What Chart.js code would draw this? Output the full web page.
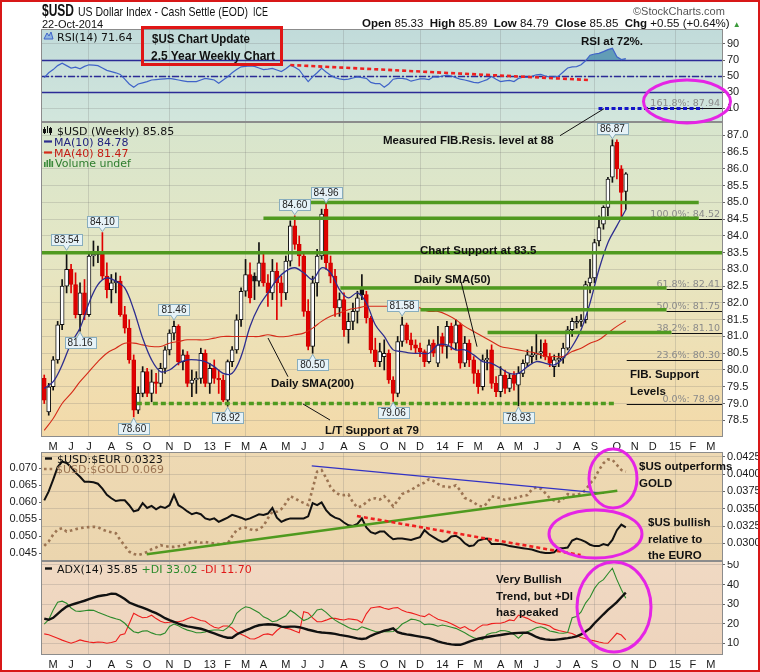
<!DOCTYPE html>
<html>
<head>
<meta charset="utf-8">
<script src="https://cdn.jsdelivr.net/npm/chart.js@4.4.1/dist/chart.umd.min.js"></script>
<style>
html, body { margin: 0; padding: 0; background: #fff; }
#wrap { position: relative; width: 760px; height: 672px; overflow: hidden; background: #fff; }
#frame { position: absolute; left: 0; top: 0; width: 760px; height: 672px; box-sizing: border-box; border: 2px solid #d81818; pointer-events: none; z-index: 6; }
canvas { position: absolute; left: 0; }
.t { position: absolute; white-space: nowrap; line-height: 1; z-index: 4; transform-origin: 0 0; }
#box { position: absolute; left: 141px; top: 26px; width: 142px; height: 40px; box-sizing: border-box; border: 3px solid #e01616; z-index: 4; }
</style>
</head>
<body>
<div id="wrap">
  <canvas id="rsi" width="760" height="93" style="top:29px"></canvas>
  <canvas id="price" width="760" height="330" style="top:122px"></canvas>
  <canvas id="ratio" width="760" height="109" style="top:452px"></canvas>
  <canvas id="adx" width="760" height="111" style="top:561px"></canvas>
  <canvas id="over" width="760" height="672" style="top:0;z-index:3"></canvas>
  <div id="box"></div>
  <div id="frame"></div>
</div>
<script>
// ---- weekly data, week 0 = week of 23-Apr-2012, last = week of 20-Oct-2014 ----
const open = [79.75,78.75,79.5,80.3,81.35,82.5,83.0,82.55,81.65,82.3, 81.65,83.4,83.45,83.45,82.8,82.4,82.6,82.65,81.65,81.25,
  80.3,78.8,79.3,79.95,79.3,79.65,79.6,80.05,80.6,81.1, 81.3,80.25,80.45,79.6,79.7,79.75,80.5,79.6,80.05,79.75,
  79.7,79.1,80.25,80.6,81.5,82.35,82.85,82.8,82.65,83.2, 82.6,82.3,82.95,82.6,82.3,83.25,84.3,83.75,83.4,81.75,
  80.7,82.6,83.4,84.8,83.2,82.8,81.85,82.1,81.2,81.45, 81.75,82.45,82.25,81.55,80.6,80.25,80.4,80.5,79.7,79.3,
  80.85,81.35,80.9,80.75,80.65,80.55,80.25,80.8,80.2,81.0, 80.7,81.3,80.8,81.35,80.2,80.8,80.3,79.9,79.5,80.3,
  80.6,79.6,79.35,79.85,79.45,79.85,79.55,79.9,80.2,80.4, 80.45,80.5,80.8,80.4,80.1,80.3,80.35,80.65,81.2,81.4,
  81.45,81.5,82.6,82.75,83.85,84.35,84.85,85.75,86.8,86.0, 85.33];
const high = [79.85,79.6,80.4,81.45,82.7,83.54,83.15,82.9,82.6,82.7, 83.5,83.85,83.7,84.10,83.2,82.85,82.9,82.8,81.9,81.5,
  80.45,79.5,80.1,80.05,80.0,79.9,80.2,80.7,81.2,81.46, 81.35,80.6,80.55,80.0,79.95,80.65,80.6,80.2,80.3,80.0,
  79.85,80.3,80.7,81.65,82.45,83.3,83.2,82.9,83.8,83.5, 82.85,83.3,83.2,82.8,83.4,84.45,84.60,84.0,83.5,82.1,
  82.8,83.6,84.8,84.96,83.4,83.0,82.3,82.3,81.7,82.0, 82.35,82.85,82.35,81.6,80.95,80.8,80.9,80.6,79.8,81.0,
  81.58,81.4,81.1,80.9,80.8,80.6,80.9,80.9,81.3,81.1, 81.45,81.4,81.5,81.4,81.0,80.9,80.4,80.0,80.45,80.6,
  80.75,79.8,80.1,80.0,79.9,79.95,80.1,80.3,80.6,80.7, 81.1,80.9,80.9,80.5,80.45,80.5,80.8,81.3,81.55,81.6,
  81.65,82.65,83.3,83.9,84.6,84.9,85.75,86.87,86.87,86.1, 85.89];
const low = [79.0,78.65,79.4,80.2,81.2,82.3,82.3,81.55,81.16,81.5, 81.6,83.1,83.2,82.7,82.15,82.0,82.3,81.6,81.1,80.2,
  78.60,78.7,79.2,79.2,79.05,79.3,79.5,79.9,80.45,80.9, 80.15,80.0,79.5,79.2,79.3,79.6,79.5,79.3,79.6,79.3,
  79.05,78.92,80.1,80.5,81.3,82.2,82.0,82.1,82.5,82.5, 81.9,82.1,81.5,81.9,82.1,83.1,83.6,83.1,81.6,80.6,
  80.50,82.2,83.3,83.0,82.6,81.6,81.6,81.0,80.8,81.2, 81.4,82.1,81.4,80.5,80.1,80.1,80.0,79.6,79.06,79.2,
  80.7,80.8,80.6,80.5,80.4,80.1,80.2,80.4,80.1,80.5, 80.35,80.6,80.6,80.05,80.1,80.1,79.6,79.3,79.4,80.0,
  79.45,79.2,79.2,79.3,79.35,79.4,78.93,79.8,80.1,80.2, 80.3,80.35,80.3,80.1,79.8,80.1,80.2,80.6,81.0,81.25,
  81.3,81.4,82.3,82.6,83.7,84.2,84.6,85.6,85.7,84.5, 84.79];
const close = [79.1,79.5,80.3,81.35,82.5,83.0,82.55,81.65,82.3,81.65, 83.4,83.45,83.5,82.8,82.4,82.6,82.65,81.65,81.25,80.3,
  78.8,79.3,79.95,79.3,79.65,79.6,80.05,80.6,81.1,81.3, 80.25,80.45,79.6,79.7,79.75,80.5,79.6,80.05,79.75,79.7,
  79.1,80.25,80.6,81.5,82.35,82.85,82.15,82.65,83.2,82.6, 82.3,82.95,82.6,82.3,83.25,84.3,83.75,83.4,81.75,80.7,
  82.6,83.4,84.65,83.2,82.8,81.85,82.1,81.2,81.45,81.75, 82.15,82.25,81.55,80.6,80.25,80.55,80.5,79.7,79.3,80.85,
  81.35,80.9,80.75,80.65,80.55,80.25,80.75,80.5,80.75,80.7, 81.3,80.8,81.35,80.2,80.8,80.3,79.9,79.5,80.3,80.35,
  79.6,79.35,79.85,79.45,79.75,79.6,79.9,80.2,80.45,80.45, 80.5,80.55,80.4,80.2,80.3,80.35,80.65,81.2,81.45,81.45,
  81.5,82.55,82.75,83.8,84.25,84.85,85.7,86.7,86.0,85.3, 85.85];

// moving averages read every second week (weeks 0, 2, 4 ... 130)
const ma10 = [79.45,79.65,80.15,80.8,81.25,82.0,82.55,82.75,82.65,82.45, 81.8,80.95,80.3,79.95,80.0,80.2,80.3,80.3,80.25,80.1,
  79.9,79.9,80.4,81.3,81.9,82.3,82.7,82.95,83.05,82.9, 82.7,83.05,82.9,82.4,82.15,82.3,82.0,81.35,81.0,80.6,
  80.55,80.5,80.5,80.5,80.75,80.75,80.6,80.6,80.45,80.25, 80.2,80.05,79.9,79.9,80.1,80.25,80.2,80.15,80.35,80.7,
  81.2,82.0,83.0,83.8,84.3,84.78];
const ma40 = [78.2,78.55,79.0,79.3,79.65,79.95,80.25,80.5,80.65,80.8, 80.8,80.75,80.7,80.7,80.8,80.85,80.9,80.9,80.9,80.95,
  81.0,81.0,81.0,81.0,81.0,81.05,81.0,81.0,81.05,81.1, 81.25,81.45,81.6,81.7,81.8,81.85,81.9,81.9,81.9,81.9,
  81.9,81.95,81.85,81.75,81.75,81.65,81.5,81.3,81.15,81.0, 80.85,80.7,80.65,80.6,80.55,80.5,80.4,80.4,80.4,80.55,
  80.65,80.8,80.9,81.1,81.3,81.47];

const rsi14 = [48,54,58,63,66,63,60,61,59,62, 64,63.5,63,60,57,55.5,54,52,46,40, 36,40,41.5,43,45,45.5,46,46.5,47,46,
  45,44,43,43,43,45,47,46,45,41, 45,49,54,58,61.5,62,62.5,62,60,58, 58.5,59.5,57.5,55.5,59,63.5,61,57.5,50,43,
  49,54,59.5,55,51,48,46.5,45.5,46,47.5, 49,48,47,42,40.5,40.5,36,40,46,47, 47,46,43.5,45,46.5,46.5,45.5,49,48.5,50,
  51,50,48,46,45,43.5,42,41.5,43.5,45.5, 49.5,46,43,44,44.5,43,47,48.5,48.3,49.5, 51.5,52,50,48.5,49,50,55,60,61.5,61.7,
  64,69,76,77.5,78.3,80.5,83,84.6,74,70.5, 71.64];

const usdEur = [0.0362,0.0375,0.0392,0.0410,0.0418,0.0416,0.0410,0.0402,0.0396,0.0389, 0.0389,0.0388,0.0386,0.0379,0.0370,0.0365,0.0361,0.0362,0.0362,0.0355,
  0.0346,0.0348,0.0358,0.0351,0.0354,0.0349,0.0353,0.0351,0.0355,0.0370, 0.0355,0.0351,0.0346,0.0342,0.0344,0.0342,0.0336,0.0334,0.0336,0.0331,
  0.0334,0.0337,0.0341,0.0339,0.0337,0.0334,0.0336,0.0339,0.0342,0.0341, 0.0343,0.0351,0.0337,0.0331,0.0334,0.0336,0.0336,0.0336,0.0336,0.0339,
  0.0358,0.0355,0.0359,0.0348,0.0341,0.0337,0.0335,0.0330,0.0326,0.0325, 0.0328,0.0336,0.0323,0.0316,0.0314,0.0317,0.0317,0.0311,0.0306,0.0307,
  0.0307,0.0306,0.0305,0.0307,0.0309,0.0319,0.0313,0.0309,0.0305,0.0302, 0.0304,0.0310,0.0311,0.0307,0.0300,0.0296,0.0297,0.0304,0.0306,0.0307,
  0.0299,0.0299,0.0299,0.0298,0.0296,0.0295,0.0294,0.0293,0.0292,0.0291, 0.0289,0.0287,0.0286,0.0286,0.0287,0.0293,0.0293,0.0294,0.0304,0.0307,
  0.0305,0.0302,0.0298,0.0296,0.0296,0.0299,0.0297,0.0305,0.0319,0.0327, 0.0323];
const usdGold = [0.0472,0.0485,0.0505,0.0520,0.0524,0.0514,0.0517,0.0521,0.0524,0.0526, 0.0527,0.0528,0.0527,0.0520,0.0515,0.0512,0.0509,0.0489,0.0472,0.0455,
  0.0448,0.0445,0.0449,0.0454,0.0462,0.0467,0.0474,0.0471,0.0469,0.0469, 0.0471,0.0473,0.0479,0.0483,0.0484,0.0481,0.0483,0.0481,0.0479,0.0477,
  0.0478,0.0479,0.0500,0.0518,0.0524,0.0526,0.0521,0.0517,0.0521,0.0530, 0.0553,0.0572,0.0572,0.0580,0.0597,0.0618,0.0612,0.0604,0.0598,0.0592,
  0.0640,0.0690,0.0695,0.0672,0.0645,0.0630,0.0622,0.0621,0.0623,0.0600, 0.0585,0.0589,0.0600,0.0610,0.0612,0.0608,0.0618,0.0605,0.0588,0.0605,
  0.0624,0.0630,0.0636,0.0645,0.0652,0.0658,0.0668,0.0663,0.0654,0.0647, 0.0646,0.0644,0.0650,0.0635,0.0613,0.0607,0.0600,0.0590,0.0587,0.0597,
  0.0618,0.0615,0.0612,0.0607,0.0610,0.0612,0.0615,0.0619,0.0621,0.0638, 0.0644,0.0640,0.0627,0.0612,0.0605,0.0602,0.0610,0.0624,0.0622,0.0622,
  0.0626,0.0636,0.0655,0.0670,0.0695,0.0715,0.0726,0.0725,0.0710,0.0695, 0.0690];

const adx14 = [22.6,22.0,23.0,25.0,27.0,28.7,29.6,30.3,31.0,31.7, 32.5,33.3,34.0,34.4,34.7,35.3,35.2,34.0,32.6,30.8,
  29.9,29.0,28.2,27.3,26.3,25.4,24.2,22.8,21.8,20.9, 20.0,19.2,18.6,18.2,17.8,17.4,16.7,15.8,15.0,14.2,
  13.4,12.8,12.8,14.5,15.6,16.6,17.5,18.5,19.2,19.5, 19.7,19.6,19.3,18.5,18.3,18.5,18.5,18.2,17.6,16.9,
  16.4,15.8,15.5,15.3,15.1,14.8,14.3,13.9,13.5,13.0, 12.5,12.2,12.5,13.8,14.8,15.6,16.4,16.9,17.6,15.6,
  15.0,14.5,14.2,13.8,13.4,13.0,12.6,11.8,11.0,10.3, 9.8,9.4,9.2,9.2,9.9,10.8,11.6,12.3,12.8,13.2,
  13.6,13.9,14.2,14.6,14.9,15.1,15.3,15.4,15.4,14.4, 13.2,12.4,12.0,11.8,11.7,12.0,12.3,12.6,13.0,13.5,
  14.5,16.0,17.6,20.2,22.5,24.8,27.0,29.0,31.0,33.5, 35.85];
const plusDI = [19.8,22,27,31,31.5,30.4,28,26.5,26.3,26.6, 26.9,26.8,25.8,24.9,24.0,23.2,22.5,21.9,20.2,17.8,
  15.9,15.3,16.2,16.4,15.3,14.5,14.3,15.2,18.6,19.8, 18.9,17.6,16.7,16.1,15.4,15.4,15.8,16.5,16.8,16.8,
  16.4,18.0,20.4,25.3,27.3,28.6,28.1,26.9,25.6,23.5, 22.5,21.0,21.5,22.8,24.0,26.8,25.3,23.5,21.6,22.5,
  24.1,27.0,27.5,25.8,23.6,21.8,20.5,19.3,18.0,17.2, 16.8,18.4,17.6,16.8,16.0,15.6,15.9,15.9,16.0,17.5,
  19.8,21.0,22.3,22.0,21.3,19.5,19.8,19.5,18.7,19.3, 18.8,18.2,17.6,16.5,15.4,14.0,12.8,12.2,11.8,14.5,
  15.2,15.5,16.5,16.4,15.9,14.5,12.6,14.8,15.9,16.8, 17.9,18.4,17.6,16.3,15.8,15.2,15.1,15.5,23.0,23.6,
  26.0,30.5,33.5,38.0,41.0,42.5,45.5,48.3,42.5,37.5, 33.02];
const minusDI = [14.8,14.3,13.5,12.6,11.6,10.8,10.0,10.8,11.7,11.1, 10.6,10.3,10.6,10.5,10.0,10.4,11.0,14.2,14.8,20.0,
  25.3,24.0,23.0,23.3,24.3,22.6,21.2,20.5,20.7,21.0, 21.0,21.5,22.5,23.4,22.5,21.6,21.2,19.5,18.2,17.7,
  18.8,18.8,17.8,15.8,14.6,13.6,12.3,12.2,13.2,14.5, 14.8,14.2,16.5,18.3,17.7,17.2,16.2,15.3,26.1,25.5,
  23.0,21.0,21.0,21.8,22.7,22.7,22.2,21.9,22.5,22.2, 21.9,20.5,25.0,28.0,28.4,28.7,27.9,27.3,28.0,28.2,
  26.8,26.0,25.5,24.8,24.0,23.6,25.0,23.6,22.3,21.6, 21.0,20.0,18.8,17.6,18.5,17.0,16.2,18.0,19.3,19.3,
  20.0,20.2,20.2,20.8,21.9,21.5,24.4,23.5,22.7,21.5, 20.5,20.0,19.5,18.8,17.2,16.5,16.0,15.5,15.0,13.8,
  12.9,12.3,11.7,11.2,10.6,10.1,10.0,12.5,15.1,14.2, 11.70];

// tick labels
const priceTicks = [78.5,79,79.5,80,80.5,81,81.5,82,82.5,83,83.5,84,84.5,85,85.5,86,86.5,87];
const rsiTicks = [10,30,50,70,90];
const goldTicks = [0.045,0.050,0.055,0.060,0.065,0.070];
const eurTicks = [0.0300,0.0325,0.0350,0.0375,0.0400,0.0425];
const adxTicks = [10,20,30,40,50];

// labelled highs / lows
const calloutWeeks = [5,13,8,20,29,41,56,63,60,78,80,106,127];
const calloutValues = [83.54,84.10,81.16,78.60,81.46,78.92,84.60,84.96,80.50,79.06,81.58,78.93,86.87];

// drawn support lines (price, from week, to week)
const supportLevels = [83.5,85.0,84.53,82.45,81.8,81.12];
const supportFrom = [-0.5,59.1,49.0,66.2,84.1,99.1];
const supportTo = [151.5,146.3,146.3,139.1,139.1,140.2];
const fibNames = ['100.0%','61.8%','50.0%','38.2%','23.6%','0.0%'];
const fibLevels = [84.52,82.41,81.75,81.10,80.30,78.99];
const fibFrom = [146.3,139.1,139.1,140.2,130.2,130.2];

// ---- week axis ----
const weekLabels = [];
for (let i = 0; i < 152; i++) {
  const d = new Date(2012, 3, 23 + 7 * i);
  weekLabels.push(d.getFullYear() + '-' + String(d.getMonth() + 1).padStart(2, '0') + '-' + String(d.getDate()).padStart(2, '0'));
}
const monthText = weekLabels.map(s => {
  const p = s.split('-').map(Number);
  if (p[2] > 7) return null;
  return p[1] === 1 ? String(p[0]).slice(2) : 'JFMAMJJASOND'[p[1] - 1];
});
const everyOther = arr => arr.map((v, k) => ({x: weekLabels[2 * k], y: v}));

Chart.defaults.font.family = "'Liberation Sans', Arial, sans-serif";
Chart.defaults.font.size = 11;
Chart.defaults.color = '#1a1a1a';
Chart.defaults.animation = false;
Chart.defaults.events = [];
Chart.defaults.plugins.legend.display = false;
Chart.defaults.plugins.tooltip.enabled = false;

const GRID = 'rgba(110,110,110,0.22)';
const GREEN = '#4f9a1f';

function xAxis(show, h) {
  return {
    type: 'category', offset: true,
    border: {display: false},
    grid: {offset: false, drawTicks: false, color: c => monthText[c.index] ? GRID : 'rgba(0,0,0,0)'},
    ticks: {
      display: show, autoSkip: false, maxRotation: 0, minRotation: 0, padding: 3, color: '#1a1a1a',
      callback: (v, i) => monthText[i],
      font: c => ({size: 11, weight: monthText[c.index] && /\d/.test(monthText[c.index]) ? 'bold' : 'normal'})
    },
    afterFit: s => { s.height = h; s.paddingLeft = 0; s.paddingRight = 0; }
  };
}
function yAxis(pos, min, max, vals, fmt, w, onArea) {
  return {
    position: pos, min, max,
    border: {display: false},
    grid: {color: GRID, drawOnChartArea: onArea, drawTicks: true, tickLength: 3, tickColor: '#666'},
    ticks: {padding: 2, color: '#1a1a1a', font: {size: 11}, callback: v => fmt(v)},
    afterBuildTicks: s => { s.ticks = vals.map(v => ({value: v})); },
    afterFit: s => { s.width = w; s.paddingTop = 0; s.paddingBottom = 0; }
  };
}

const panel = {
  id: 'panel',
  beforeDraw(chart, args, o) {
    const {ctx, chartArea: a} = chart;
    const g = ctx.createLinearGradient(0, a.top, 0, a.bottom);
    o.stops.forEach(s => g.addColorStop(s[0], s[1]));
    ctx.save();
    ctx.fillStyle = g;
    ctx.fillRect(a.left, a.top, a.width, a.height);
    ctx.restore();
  },
  afterDraw(chart) {
    const {ctx, chartArea: a} = chart;
    ctx.save();
    ctx.strokeStyle = '#8c8c8c';
    ctx.lineWidth = 1;
    ctx.strokeRect(Math.round(a.left) - 0.5, Math.round(a.top) + 0.5, Math.round(a.width) + 1, Math.round(a.height) - 1);
    ctx.restore();
  }
};

function seg(ctx, x1, y1, x2, y2) { ctx.beginPath(); ctx.moveTo(x1, y1); ctx.lineTo(x2, y2); ctx.stroke(); }

// ---- RSI panel ----
new Chart(document.getElementById('rsi'), {
  type: 'line',
  data: {
    labels: weekLabels,
    datasets: [{
      data: rsi14, borderColor: '#3f63c8', borderWidth: 1.2, pointRadius: 0,
      fill: {target: {value: 70}, above: 'rgba(72,140,172,0.8)', below: 'rgba(0,0,0,0)'}
    }]
  },
  options: {
    responsive: false,
    layout: {padding: {left: 42, right: 0, top: 0, bottom: 0}},
    scales: {
      x: xAxis(false, 0),
      y: yAxis('right', -7.5, 108.75, rsiTicks, v => String(v), 38, true)
    },
    plugins: {panel: {stops: [[0, '#c1dbda'], [1, '#d2e6dc']]}}
  },
  plugins: [panel, {
    id: 'rsiNotes',
    beforeDatasetsDraw(chart) {
      const {ctx, scales: {x, y}, chartArea: a} = chart;
      ctx.save();
      ctx.strokeStyle = '#2b2b96';
      ctx.lineWidth = 1.3;
      [70, 30].forEach(v => seg(ctx, a.left, Math.round(y.getPixelForValue(v)) + 0.5, a.right, Math.round(y.getPixelForValue(v)) + 0.5));
      ctx.setLineDash([7, 2, 2, 2]);
      seg(ctx, a.left, Math.round(y.getPixelForValue(50)) + 0.5, a.right, Math.round(y.getPixelForValue(50)) + 0.5);
      ctx.restore();
    },
    afterDatasetsDraw(chart) {
      const {ctx, scales: {x, y}, chartArea: a} = chart;
      ctx.save();
      ctx.strokeStyle = '#ee2020';
      ctx.lineWidth = 2.6;
      ctx.setLineDash([4, 3]);
      seg(ctx, x.getPixelForValue(55), y.getPixelForValue(63.75), x.getPixelForValue(121.7), y.getPixelForValue(45));
      // 161.8% extension level
      const ly = Math.round(y.getPixelForValue(9.6)) + 0.5;
      ctx.setLineDash([]);
      ctx.lineWidth = 1;
      ctx.strokeStyle = '#111';
      seg(ctx, x.getPixelForValue(134.4), ly, a.right, ly);
      ctx.strokeStyle = '#1414c8';
      ctx.lineWidth = 3.2;
      ctx.setLineDash([4, 2.5]);
      seg(ctx, x.getPixelForValue(123.9), ly, x.getPixelForValue(147.2), ly);
      ctx.setLineDash([]);
      ctx.fillStyle = '#8a8a8a';
      ctx.font = "9.5px 'DejaVu Sans'";
      ctx.textAlign = 'right';
      ctx.textBaseline = 'alphabetic';
      ctx.fillText('161.8%: 87.94', a.right - 2, ly - 3);
      ctx.restore();
    }
  }]
});

// ---- price panel ----
const bodies = open.map((o, i) => [Math.min(o, close[i]), Math.max(o, close[i])]);
const wicks = low.map((l, i) => [l, high[i]]);
const bodyFill = close.map((c, i) => c >= open[i] ? '#ffffff' : (i > 0 && c > close[i - 1] ? '#111111' : '#e00000'));
const bodyLine = close.map((c, i) => c >= open[i] ? '#111111' : (i > 0 && c > close[i - 1] ? '#111111' : '#d00000'));
const wickColor = close.map((c, i) => c >= open[i] || (i > 0 && c > close[i - 1]) ? '#111111' : '#e00000');

new Chart(document.getElementById('price'), {
  type: 'bar',
  data: {
    labels: weekLabels,
    datasets: [
      {type: 'line', data: everyOther(ma10), borderColor: '#2d2d8f', borderWidth: 1.3, pointRadius: 0, tension: 0.35, order: 0},
      {type: 'line', data: everyOther(ma40), borderColor: '#d52a18', borderWidth: 1.1, pointRadius: 0, tension: 0.35, order: 0},
      {data: bodies, backgroundColor: bodyFill, borderColor: bodyLine, borderWidth: 1, borderSkipped: false, barThickness: 4, grouped: false, order: 1},
      {data: wicks, backgroundColor: wickColor, borderWidth: 0, barThickness: 1, grouped: false, order: 2}
    ]
  },
  options: {
    responsive: false,
    layout: {padding: {left: 42, right: 0, top: 0, bottom: 0}},
    scales: {
      x: xAxis(true, 15),
      y: yAxis('right', 78.0, 87.4, priceTicks, v => v.toFixed(1), 38, true)
    },
    plugins: {panel: {stops: [[0, '#d7e5cd'], [0.4, '#e4e7c5'], [0.75, '#efdfb3'], [1, '#f3daa9']]}}
  },
  plugins: [panel, {
    id: 'priceNotes',
    afterDatasetsDraw(chart) {
      const {ctx, scales: {x, y}, chartArea: a} = chart;
      ctx.save();
      ctx.beginPath();
      ctx.rect(a.left, a.top, a.width, a.height);
      ctx.clip();
      // fibonacci levels
      ctx.font = "9.5px 'DejaVu Sans'";
      ctx.textAlign = 'right';
      ctx.textBaseline = 'alphabetic';
      fibLevels.forEach((lv, k) => {
        const py = Math.round(y.getPixelForValue(lv)) + 0.5;
        ctx.strokeStyle = '#111';
        ctx.lineWidth = 1;
        seg(ctx, x.getPixelForValue(fibFrom[k]), py, a.right, py);
        ctx.fillStyle = '#8a8a8a';
        ctx.fillText(fibNames[k] + ': ' + lv.toFixed(2), a.right - 2, py - 3);
      });
      // support lines
      ctx.strokeStyle = GREEN;
      ctx.lineWidth = 3.5;
      supportLevels.forEach((lv, k) => {
        const py = y.getPixelForValue(lv);
        seg(ctx, x.getPixelForValue(supportFrom[k]), py, x.getPixelForValue(supportTo[k]), py);
      });
      ctx.setLineDash([5, 3]);
      const ly = y.getPixelForValue(79.0);
      seg(ctx, x.getPixelForValue(20.7), ly, x.getPixelForValue(127.7), ly);
      ctx.setLineDash([]);
      ctx.restore();

      // callouts at labelled highs and lows
      ctx.save();
      ctx.font = "10px 'Liberation Sans'";
      ctx.lineWidth = 1;
      calloutWeeks.forEach((w, k) => {
        const v = calloutValues[k];
        const up = v === high[w];
        const px = x.getPixelForValue(w);
        const py = y.getPixelForValue(v);
        const t = v.toFixed(2);
        const bw = Math.round(ctx.measureText(t).width + 6);
        const bh = 11;
        const bx = Math.round(px - bw / 2) + 0.5;
        const by = up ? Math.round(py - 6 - bh) + 0.5 : Math.round(py + 6) + 0.5;
        ctx.fillStyle = '#e6f2f7';
        ctx.strokeStyle = '#88adbd';
        ctx.beginPath();
        if (up) { ctx.moveTo(px - 3, by + bh); ctx.lineTo(px, py - 1); ctx.lineTo(px + 3, by + bh); }
        else { ctx.moveTo(px - 3, by); ctx.lineTo(px, py + 1); ctx.lineTo(px + 3, by); }
        ctx.closePath();
        ctx.fill();
        ctx.stroke();
        ctx.fillRect(bx, by, bw, bh);
        ctx.strokeRect(bx, by, bw, bh);
        ctx.fillRect(px - 2.5, up ? by + bh - 1.5 : by - 0.5, 5, 2);
        ctx.fillStyle = '#222';
        ctx.textAlign = 'center';
        ctx.textBaseline = 'middle';
        ctx.fillText(t, px, by + bh / 2 + 0.5);
      });
      ctx.restore();
    }
  }]
});

// ---- relative strength panel ----
new Chart(document.getElementById('ratio'), {
  type: 'line',
  data: {
    labels: weekLabels,
    datasets: [
      {data: usdEur, yAxisID: 'yR', borderColor: '#111', borderWidth: 2, pointRadius: 0, order: 0},
      {data: usdGold, yAxisID: 'yL', borderColor: '#9c7452', borderWidth: 2.6, borderDash: [2.6, 3.2], pointRadius: 0, order: 1}
    ]
  },
  options: {
    responsive: false,
    layout: {padding: {left: 0, right: 0, top: 0, bottom: 0}},
    scales: {
      x: xAxis(false, 0),
      yL: yAxis('left', 0.04274, 0.07479, goldTicks, v => v.toFixed(3), 42, false),
      yR: yAxis('right', 0.02745, 0.04318, eurTicks, v => v.toFixed(4), 38, true)
    },
    plugins: {panel: {stops: [[0, '#eed9b3'], [1, '#ebd5ae']]}}
  },
  plugins: [panel, {
    id: 'ratioNotes',
    afterDatasetsDraw(chart) {
      const {ctx, scales: {x, yL, yR}} = chart;
      ctx.save();
      ctx.strokeStyle = '#3232c4';
      ctx.lineWidth = 1.2;
      seg(ctx, x.getPixelForValue(59.8), yL.getPixelForValue(0.0707), x.getPixelForValue(125.1), yL.getPixelForValue(0.0626));
      ctx.strokeStyle = GREEN;
      ctx.lineWidth = 2.6;
      seg(ctx, x.getPixelForValue(22.9), yL.getPixelForValue(0.0447), x.getPixelForValue(128.1), yL.getPixelForValue(0.0634));
      ctx.strokeStyle = '#ee2020';
      ctx.setLineDash([4, 3]);
      seg(ctx, x.getPixelForValue(69.9), yR.getPixelForValue(0.03394), x.getPixelForValue(119.9), yR.getPixelForValue(0.02831));
      ctx.restore();
    }
  }]
});

// ---- ADX panel ----
new Chart(document.getElementById('adx'), {
  type: 'line',
  data: {
    labels: weekLabels,
    datasets: [
      {data: adx14, borderColor: '#111', borderWidth: 2.4, pointRadius: 0, order: 0},
      {data: plusDI, borderColor: '#2b8a2b', borderWidth: 1.1, pointRadius: 0, order: 1},
      {data: minusDI, borderColor: '#ee1c1c', borderWidth: 1.1, pointRadius: 0, order: 2}
    ]
  },
  options: {
    responsive: false,
    layout: {padding: {left: 42, right: 0, top: 0, bottom: 0}},
    scales: {
      x: xAxis(true, 17),
      y: yAxis('right', 4, 52, adxTicks, v => String(v), 38, true)
    },
    plugins: {panel: {stops: [[0, '#f0d9c3'], [1, '#eed4bd']]}}
  },
  plugins: [panel]
});

// ---- overlay: legend marks, pointers, ellipses ----
const oc = document.getElementById('over').getContext('2d');
oc.lineCap = 'butt';
function dash(x1, x2, y, col, w, pattern) {
  oc.save(); oc.strokeStyle = col; oc.lineWidth = w; oc.setLineDash(pattern || []);
  seg(oc, x1, y, x2, y); oc.restore();
}
// rsi icon
oc.save();
oc.fillStyle = '#8fb6e0'; oc.strokeStyle = '#3f63c8'; oc.lineWidth = 1;
oc.beginPath(); oc.moveTo(44, 39); oc.lineTo(47, 33); oc.lineTo(49, 36); oc.lineTo(51, 32); oc.lineTo(53, 39); oc.closePath(); oc.fill(); oc.stroke();
// price icon
oc.strokeStyle = '#111'; oc.lineWidth = 1;
[[44.5, 127, 134], [47.5, 126, 133], [50.5, 127, 135]].forEach(b => seg(oc, b[0], b[1], b[0], b[2]));
oc.strokeRect(43.5, 129.5, 2, 3); oc.strokeRect(49.5, 128.5, 2, 4);
// volume icon
oc.fillStyle = '#3b8a3b';
[[44, 162, 5], [46.5, 160, 7], [49, 159, 8], [51.5, 161, 6]].forEach(b => oc.fillRect(b[0], b[1], 1.6, b[2]));
oc.restore();
dash(44, 52, 141.5, '#2d2d8f', 2.2);
dash(44, 52, 152.5, '#d52a18', 2.2);
dash(45, 52, 458.5, '#111', 2.4);
dash(44, 55, 469, '#9c7452', 2.6, [2.6, 3]);
dash(45, 52, 568.5, '#111', 2.4);

// pointer lines
oc.save();
oc.strokeStyle = '#111'; oc.lineWidth = 1;
[[560, 135.7, 604, 108.7], [461, 281.7, 477, 346.7], [288, 376.7, 268, 338], [303, 404, 330, 420]].forEach(p => seg(oc, p[0], p[1], p[2], p[3]));
oc.restore();
// highlight ellipses
oc.save();
oc.strokeStyle = '#e524e5'; oc.lineWidth = 3;
[[687, 101.5, 43.5, 21.5], [613, 478.5, 24, 29.5], [595.5, 534, 46.5, 24], [614, 607, 37, 45]].forEach(e => {
  oc.beginPath(); oc.ellipse(e[0], e[1], e[2], e[3], 0, 0, Math.PI * 2); oc.stroke();
});
oc.restore();

// ---- text ----
const wrap = document.getElementById('wrap');
function addText(s, x, base, size, weight, color, family) {
  const d = document.createElement('div');
  d.className = 't';
  d.textContent = s;
  d.style.left = x + 'px';
  d.style.top = (base - 0.85 * size) + 'px';
  d.style.font = weight + ' ' + size + 'px ' + (family || "'Liberation Sans', Arial, sans-serif");
  d.style.color = color;
  wrap.appendChild(d);
  return d;
}
// squeeze a text box horizontally to a given width (the original uses a narrow face)
function fitWidth(d, w) {
  const cur = d.getBoundingClientRect().width;
  if (cur > 0) d.style.transform = 'scaleX(' + (w / cur) + ')';
}
const LEG = "'DejaVu Sans', Verdana, sans-serif";
fitWidth(addText('$USD', 42, 15.5, 16, 'bold', '#111'), 32);
fitWidth(addText('US Dollar Index - Cash Settle (EOD)', 78, 15.5, 13, 'normal', '#111'), 170);
fitWidth(addText('ICE', 253, 15.5, 12, 'normal', '#111'), 15);
addText('22-Oct-2014', 42, 27, 11, 'normal', '#111');
addText('\u00a9StockCharts.com', 633, 14, 11, 'normal', '#555');
const ohlc = addText('', 362, 27, 11.5, 'normal', '#111');
ohlc.innerHTML = '<b>Open</b> 85.33 &nbsp;<b>High</b> 85.89 &nbsp;<b>Low</b> 84.79 &nbsp;<b>Close</b> 85.85 &nbsp;<b>Chg</b> +0.55 (+0.64%) <span style="color:#3a9a3a;font-size:8px">\u25b2</span>';

addText('RSI(14) 71.64', 57, 40, 11, 'normal', '#111', LEG);
addText('$USD (Weekly) 85.85', 57, 134, 11, 'normal', '#111', LEG);
addText('MA(10) 84.78', 54, 145, 11, 'normal', '#23237e', LEG);
addText('MA(40) 81.47', 54, 156, 11, 'normal', '#c41c14', LEG);
addText('Volume undef', 55, 166.5, 11, 'normal', '#2e7d2e', LEG);
addText('$USD:$EUR 0.0323', 57, 462, 11, 'normal', '#111', LEG);
addText('$USD:$GOLD 0.069', 56, 472.5, 11, 'normal', '#9c7452', LEG);
const adxLeg = addText('', 57, 572, 11, 'normal', '#111', LEG);
adxLeg.innerHTML = 'ADX(14) 35.85 <span style="color:#2b8a2b">+DI 33.02</span> <span style="color:#e01818">-DI 11.70</span>';

fitWidth(addText('$US Chart Update', 152, 43, 12.5, 'bold', '#111'), 98);
fitWidth(addText('2.5 Year Weekly Chart', 151, 60, 12.5, 'bold', '#111'), 124);

const B = 11.5;
addText('RSI at 72%.', 581, 45, B, 'bold', '#111');
addText('Measured FIB.Resis. level at 88', 383, 143.5, B, 'bold', '#111');
addText('Chart Support at 83.5', 420, 254, B, 'bold', '#111');
addText('Daily SMA(50)', 414, 283, B, 'bold', '#111');
addText('Daily SMA(200)', 271, 387, B, 'bold', '#111');
addText('L/T Support at 79', 325, 434, B, 'bold', '#111');
addText('FIB. Support', 630, 378, B, 'bold', '#111');
addText('Levels', 630, 395, B, 'bold', '#111');
addText('$US outperforms', 639, 470, B, 'bold', '#111');
addText('GOLD', 639, 487, B, 'bold', '#111');
addText('$US bullish', 648, 526, B, 'bold', '#111');
addText('relative to', 648, 543, B, 'bold', '#111');
addText('the EURO', 648, 559, B, 'bold', '#111');
addText('Very Bullish', 496, 583, B, 'bold', '#111');
addText('Trend, but +DI', 496, 600, B, 'bold', '#111');
addText('has peaked', 496, 616, B, 'bold', '#111');
</script>
</body>
</html>
